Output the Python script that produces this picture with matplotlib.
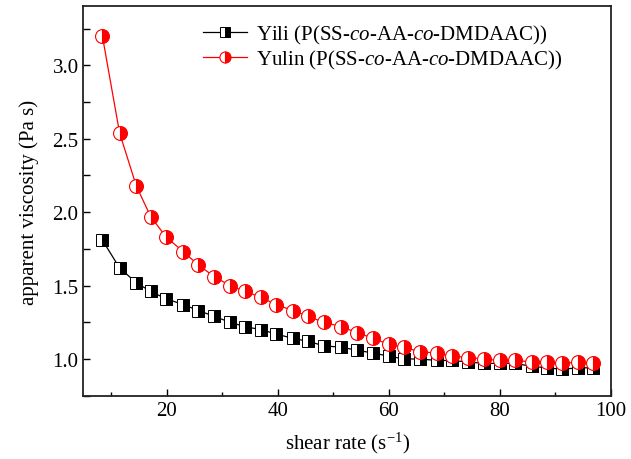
import numpy as np
import matplotlib
matplotlib.use('Agg')
import matplotlib.pyplot as plt
from matplotlib.ticker import MultipleLocator
from matplotlib import rcParams

rcParams['font.family'] = 'Liberation Serif'
rcParams['mathtext.fontset'] = 'custom'
rcParams['mathtext.rm'] = 'Liberation Serif'
rcParams['mathtext.it'] = 'Liberation Serif:italic'

# shear rate (s^-1), same sampling for both samples
shear_rate = [8.4, 11.5, 14.5, 17.1, 19.9, 23.0, 25.7, 28.6, 31.4, 34.1,
              37.0, 39.7, 42.8, 45.5, 48.3, 51.4, 54.3, 57.2, 60.0, 62.7,
              65.6, 68.7, 71.4, 74.2, 77.1, 80.0, 82.7, 85.8, 88.5, 91.3,
              94.2, 96.9]

# apparent viscosity (Pa s)
yili = [1.81, 1.62, 1.52, 1.46, 1.41, 1.37, 1.33, 1.29, 1.25, 1.22,
        1.20, 1.17, 1.14, 1.12, 1.09, 1.08, 1.06, 1.04, 1.02, 1.00,
        1.00, 0.99, 0.99, 0.98, 0.97, 0.97, 0.97, 0.95, 0.94, 0.93,
        0.94, 0.94]
yulin = [3.20, 2.54, 2.18, 1.97, 1.83, 1.73, 1.64, 1.56, 1.50, 1.46,
         1.42, 1.37, 1.33, 1.29, 1.25, 1.22, 1.18, 1.14, 1.10, 1.08,
         1.05, 1.04, 1.02, 1.01, 1.00, 0.99, 0.99, 0.98, 0.98, 0.97,
         0.98, 0.97]

labels = [r'Yili (P(SS-$\it{co}$-AA-$\it{co}$-DMDAAC))',
          r'Yulin (P(SS-$\it{co}$-AA-$\it{co}$-DMDAAC))']

fig = plt.figure(figsize=(6.31, 4.60), dpi=100)
ax = fig.add_axes([0.1323, 0.1376, 0.8355, 0.8461])

ax.plot(shear_rate, yili, color='black', linewidth=0.9, marker='s',
        markersize=9, fillstyle='right', markerfacecolor='black',
        markerfacecoloralt='white', markeredgecolor='black',
        markeredgewidth=0.7, label=labels[0])
ax.plot(shear_rate, yulin, color='red', linewidth=0.9, marker='o',
        markersize=10, fillstyle='right', markerfacecolor='red',
        markerfacecoloralt='white', markeredgecolor='red',
        markeredgewidth=0.8, label=labels[1])

ax.set_xlim(5, 100)
ax.set_ylim(0.75, 3.4)
ax.xaxis.set_major_locator(MultipleLocator(20))
ax.xaxis.set_minor_locator(MultipleLocator(10))
ax.yaxis.set_major_locator(MultipleLocator(0.5))
ax.yaxis.set_minor_locator(MultipleLocator(0.25))
ax.tick_params(axis='both', which='both', direction='in', width=1.0,
               labelsize=15, top=False, right=False)
ax.tick_params(axis='x', which='major', length=5)
ax.tick_params(axis='x', which='minor', length=3)
ax.tick_params(axis='y', which='both', length=5)
for s in ax.spines.values():
    s.set_linewidth(1.3)
    s.set_color('#222222')

ax.set_xlabel(r'shear rate (s$^{-1}$)', fontsize=15, labelpad=7)
ax.set_ylabel('apparent viscosity (Pa s)', fontsize=15, labelpad=10)

ax.legend(loc='upper left', bbox_to_anchor=(0.2268, 0.958), frameon=False,
          fontsize=15, handlelength=2.1, handletextpad=0.45,
          labelspacing=0.1, borderaxespad=0, borderpad=0, markerscale=0.8)

fig.savefig('out.png', dpi=100)
